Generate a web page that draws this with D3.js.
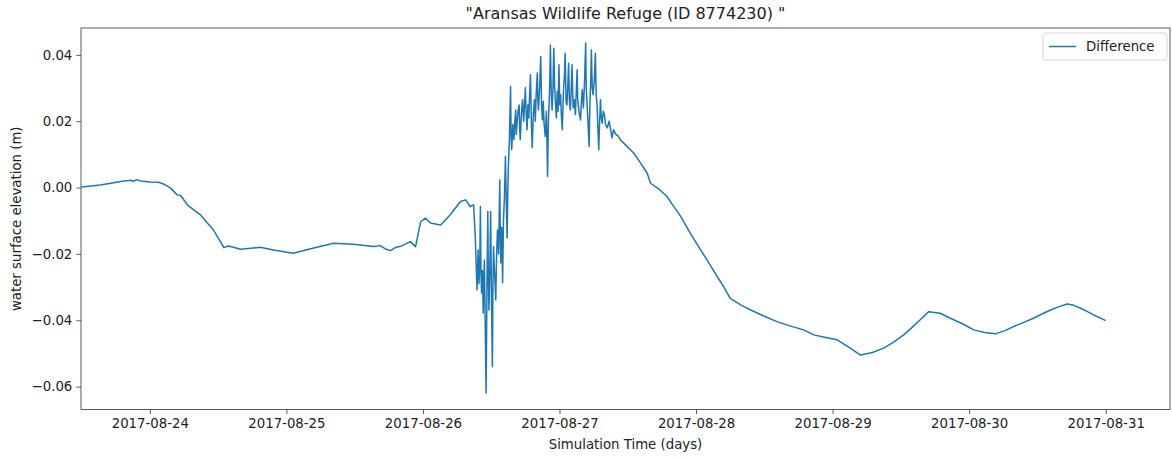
<!DOCTYPE html>
<html>
<head>
<meta charset="utf-8">
<script src="https://cdn.jsdelivr.net/npm/d3@7"></script>
<style>
  body { margin: 0; background: #fff; }
  svg text { font-family: "DejaVu Sans", sans-serif; fill: #222; }
</style>
</head>
<body>
<div id="container"></div>
<script>
// hours after 2017-08-23 12:00 and the water level difference (m)
var startTime = new Date(2017, 7, 23, 12, 0);

var hours = [
    // calm start
    0, 3.3, 6.9, 8.6, 9.1, 9.7, 10.4, 12.1, 13.5, 14.4, 15.6, 16.8, 17.4, 18.6, 19.7, 20.9,
    22.1, 23.2, 24.4, 25.0, 25.8, 26.7, 27.9, 31.4, 33.7, 37.2, 40.8, 44.3, 47.8, 51.3,
    52.5, 53.4, 54.3, 55.2, 56.0, 57.8, 58.7, 59.6, 60.4, 61.3, 63.1, 64.8, 66.6, 67.5,
    68.3, 68.9,
    // storm, noisy part
    69.2, 69.5, 69.6, 69.7, 69.85, 70.0, 70.1, 70.2, 70.3, 70.45,
    70.6, 70.7, 70.8, 70.95, 71.1, 71.25, 71.4, 71.5, 71.6, 71.75,
    71.9, 72.05, 72.2, 72.3, 72.4, 72.6, 72.8, 72.95, 73.1, 73.3,
    73.5, 73.6, 73.7, 73.85, 74.0, 74.15, 74.3, 74.4, 74.5, 74.65,
    74.8, 74.9, 75.0, 75.2, 75.4, 75.5, 75.6, 75.8, 76.0, 76.15,
    76.3, 76.4, 76.5, 76.7, 76.9, 77.0, 77.1, 77.3, 77.5, 77.7,
    77.85, 78.0, 78.15, 78.3, 78.45, 78.6, 78.75, 78.9, 79.05, 79.2,
    79.4, 79.6, 79.75, 79.9, 80.1, 80.2, 80.3, 80.5, 80.7, 80.85,
    81.0, 81.15, 81.3, 81.5, 81.7, 81.9, 82.05, 82.2, 82.3, 82.4,
    82.55, 82.7, 82.85, 83.0, 83.15, 83.3, 83.45, 83.6, 83.75, 83.9,
    84.05, 84.2, 84.35, 84.5, 84.6, 84.7, 84.85, 85.0, 85.15, 85.3,
    85.45, 85.6, 85.75, 85.9, 86.05, 86.2, 86.4, 86.6, 86.8, 86.95,
    87.1, 87.2, 87.3, 87.5, 87.7, 87.85, 88.0, 88.2, 88.4, 88.6,
    88.7, 88.8, 89.0, 89.2, 89.3, 89.4, 89.5, 89.6, 89.75, 89.9,
    90.1, 90.3, 90.45, 90.6, 90.75, 90.9, 91.05, 91.2, 91.35, 91.5,
    91.7, 91.9, 92.1, 92.4, 92.7, 93.0, 93.2, 93.5, 93.9, 94.4,
    94.7,
    // recession
    95.8, 97.0, 98.2, 99.4, 100.0, 101.5, 102.9, 104.0, 105.3, 107.0,
    108.8, 110.0, 111.7, 112.9, 114.0, 116.0, 117.6, 120.0, 122.2, 124.5,
    126.9, 128.7, 130.8, 132.8, 135.1, 136.9, 139.0, 141.0, 142.8, 144.5,
    146.7, 148.9, 150.9, 152.7, 155.0, 156.8, 158.7, 160.6, 162.2, 163.8,
    165.5, 167.3, 168.8, 170.3, 171.8, 173.2, 174.4, 175.5, 176.7, 177.9,
    179.0, 180.0
];

var difference = [
    0.0002, 0.0008, 0.0018, 0.0022, 0.0019, 0.0024, 0.0020, 0.0017, 0.0016, 0.0011, -0.0001, -0.0022, -0.0024, -0.0052, -0.0067, -0.0082,
    -0.0107, -0.0128, -0.0163, -0.0181, -0.0176, -0.0180, -0.0186, -0.0180, -0.0188, -0.0198, -0.0182, -0.0168, -0.0171, -0.0178,
    -0.0175, -0.0185, -0.0190, -0.0180, -0.0178, -0.0163, -0.0178, -0.0103, -0.0092, -0.0107, -0.0113, -0.0082, -0.0042, -0.0037,
    -0.0057, -0.0052,
    -0.0150, -0.0309, -0.0250, -0.0188, -0.0290, -0.0220, -0.0057, -0.0260, -0.0318, -0.0250,
    -0.0378, -0.0280, -0.0218, -0.0420, -0.0619, -0.0300, -0.0072, -0.0280, -0.0369, -0.0250,
    -0.0072, -0.0350, -0.0540, -0.0300, -0.0178, -0.0260, -0.0339, -0.0200, -0.0128, -0.0200,
    0.0023, -0.0150, -0.0227, -0.0120, -0.0287, -0.0100, -0.0037, 0.0020, 0.0094, -0.0050,
    -0.0152, -0.0020, 0.0053, 0.0150, 0.0305, 0.0150, 0.0114, 0.0190, 0.0144, 0.0200,
    0.0234, 0.0160, 0.0184, 0.0230, 0.0249, 0.0180, 0.0144, 0.0220, 0.0265, 0.0200,
    0.0250, 0.0301, 0.0220, 0.0174, 0.0250, 0.0210, 0.0280, 0.0340, 0.0200, 0.0120,
    0.0220, 0.0265, 0.0200, 0.0280, 0.0345, 0.0260, 0.0234, 0.0300, 0.0395, 0.0250,
    0.0204, 0.0260, 0.0190, 0.0154, 0.0230, 0.0033, 0.0200, 0.0265, 0.0330, 0.0430,
    0.0280, 0.0234, 0.0300, 0.0420, 0.0300, 0.0249, 0.0210, 0.0290, 0.0230, 0.0370,
    0.0250, 0.0280, 0.0210, 0.0174, 0.0240, 0.0295, 0.0330, 0.0405, 0.0260, 0.0249,
    0.0300, 0.0375, 0.0260, 0.0234, 0.0290, 0.0370, 0.0240, 0.0265, 0.0220, 0.0290,
    0.0355, 0.0270, 0.0249, 0.0220, 0.0204, 0.0260, 0.0295, 0.0240, 0.0320, 0.0436,
    0.0300, 0.0265, 0.0200, 0.0124, 0.0220, 0.0280, 0.0330, 0.0415, 0.0300, 0.0280,
    0.0320, 0.0405, 0.0280, 0.0249, 0.0180, 0.0114, 0.0200, 0.0265, 0.0210, 0.0194,
    0.0230, 0.0219, 0.0190, 0.0180, 0.0200, 0.0174, 0.0150, 0.0174, 0.0160, 0.0154,
    0.0144,
    0.0125, 0.0105, 0.0075, 0.0044, 0.0013, -0.0005, -0.0027, -0.0055, -0.0087, -0.0138,
    -0.0188, -0.0220, -0.0268, -0.0300, -0.0334, -0.0355, -0.0369, -0.0388, -0.0404, -0.0417,
    -0.0429, -0.0444, -0.0452, -0.0459, -0.0484, -0.0505, -0.0497, -0.0484, -0.0465, -0.0444,
    -0.0410, -0.0374, -0.0379, -0.0394, -0.0412, -0.0429, -0.0437, -0.0441, -0.0432, -0.0419,
    -0.0407, -0.0394, -0.0381, -0.0369, -0.0359, -0.0351, -0.0355, -0.0363, -0.0373, -0.0384,
    -0.0393, -0.0401
];

var yTicks = [0.04, 0.02, 0.00, -0.02, -0.04, -0.06];

const margin = { top: 28, right: 2, bottom: 49.5, left: 81 },
    width = 1172 - margin.left - margin.right,
    height = 459 - margin.top - margin.bottom;

var svg = d3.select("#container")
    .append("svg")
    .attr("width", 1172)
    .attr("height", 459);

var g = svg.append("g")
    .attr("transform", "translate(" + margin.left + "," + margin.top + ")");

var hourToDate = function (h) { return new Date(startTime.getTime() + h * 3600 * 1000); };

var data = hours.map(function (h, i) { return { date: hourToDate(h), value: difference[i] }; });

var x = d3.scaleTime()
    .domain([hourToDate(-0.1), hourToDate(191.3)])
    .range([0, width]);

var y = d3.scaleLinear()
    .domain([-0.0669, 0.0481])
    .range([height, 0]);

// line first, axes frame over it
g.append("path")
    .datum(data)
    .attr("fill", "none")
    .attr("stroke", "#1f77b4")
    .attr("stroke-width", 1.5)
    .attr("stroke-linejoin", "round")
    .attr("d", d3.line()
        .x(function (d) { return x(d.date); })
        .y(function (d) { return y(d.value); }));

var fmtY = function (d) { return d3.format(".2f")(d).replace("-", "\u2212"); };

var xAxis = g.append("g")
    .attr("transform", "translate(0," + height + ")")
    .call(d3.axisBottom(x)
        .ticks(d3.timeDay.every(1))
        .tickFormat(d3.timeFormat("%Y-%m-%d"))
        .tickSize(4.7)
        .tickPadding(4));

var yAxis = g.append("g")
    .call(d3.axisLeft(y)
        .tickValues(yTicks)
        .tickFormat(fmtY)
        .tickSize(4.7)
        .tickPadding(4));

[xAxis, yAxis].forEach(function (a) {
    a.select(".domain").remove();
    a.selectAll("line").attr("stroke", "#333").attr("stroke-width", 0.8);
    a.selectAll("text").style("font-size", "13.3px").attr("fill", "#222");
});

// frame
g.append("rect")
    .attr("x", 0)
    .attr("y", 0)
    .attr("width", width)
    .attr("height", height)
    .attr("fill", "none")
    .attr("stroke", "#333")
    .attr("stroke-width", 0.8);

// title and labels
svg.append("text")
    .attr("x", margin.left + width / 2)
    .attr("y", 19)
    .attr("text-anchor", "middle")
    .style("font-size", "16px")
    .text("\"Aransas Wildlife Refuge (ID 8774230) \"");

svg.append("text")
    .attr("x", margin.left + width / 2)
    .attr("y", 449)
    .attr("text-anchor", "middle")
    .style("font-size", "13.3px")
    .text("Simulation Time (days)");

svg.append("text")
    .attr("transform", "translate(21," + (margin.top + height / 2) + ") rotate(-90)")
    .attr("text-anchor", "middle")
    .style("font-size", "13.3px")
    .text("water surface elevation (m)");

// legend
var legend = svg.append("g")
    .attr("transform", "translate(1043,33)");

legend.append("rect")
    .attr("width", 124)
    .attr("height", 27)
    .attr("rx", 3)
    .attr("fill", "#fff")
    .attr("fill-opacity", 0.8)
    .attr("stroke", "#ccc")
    .attr("stroke-width", 0.8);

legend.append("line")
    .attr("x1", 6)
    .attr("x2", 33)
    .attr("y1", 13.5)
    .attr("y2", 13.5)
    .attr("stroke", "#1f77b4")
    .attr("stroke-width", 1.5);

legend.append("text")
    .attr("x", 43)
    .attr("y", 18)
    .style("font-size", "13.3px")
    .text("Difference");
</script>
</body>
</html>
